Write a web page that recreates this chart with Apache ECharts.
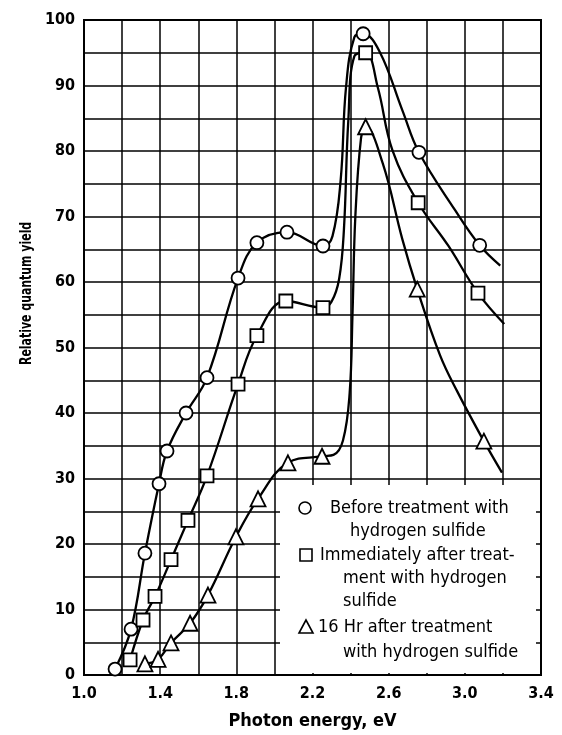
<!DOCTYPE html>
<html>
<head>
<meta charset="utf-8">
<script src="https://cdn.jsdelivr.net/npm/echarts@6/dist/echarts.min.js"></script>
<style>
  html, body { margin: 0; padding: 0; background: #fff; }
  #chart { width: 562px; height: 735px; }
</style>
</head>
<body>
<div id="chart"></div>
<script>
// markers (photon energy eV, relative quantum yield)
const beforeE = [1.163, 1.247, 1.32, 1.394, 1.436, 1.536, 1.646, 1.809, 1.908, 2.066, 2.255, 2.466, 2.759, 3.078];
const beforeY = [0.9, 7.0, 18.6, 29.2, 34.2, 40.0, 45.4, 60.6, 66.0, 67.6, 65.5, 97.9, 79.8, 65.6];
const afterE = [1.242, 1.31, 1.373, 1.457, 1.546, 1.646, 1.809, 1.908, 2.06, 2.255, 2.479, 2.755, 3.069];
const afterY = [2.3, 8.4, 12.0, 17.6, 23.6, 30.4, 44.4, 51.8, 57.1, 56.1, 95.0, 72.1, 58.3];
const laterE = [1.32, 1.389, 1.457, 1.557, 1.651, 1.798, 1.914, 2.071, 2.25, 2.479, 2.75, 3.1];
const laterY = [1.7, 2.4, 4.9, 7.9, 12.2, 21.1, 26.9, 32.4, 33.4, 83.7, 58.9, 35.7];

// points
const beforeLineE = [1.163, 1.247, 1.32, 1.394, 1.436, 1.536, 1.646, 1.809, 1.908, 2.066, 2.255, 2.305, 2.348, 2.376, 2.42, 2.466, 2.552, 2.672, 2.759, 2.948, 3.078, 3.186];
const beforeLineY = [0.9, 7.0, 18.6, 29.2, 34.2, 40.0, 45.4, 60.6, 66.0, 67.6, 65.5, 67.0, 75.6, 89.7, 97.4, 97.9, 95.2, 86.2, 79.8, 71.0, 65.6, 62.5];
const afterLineE = [1.242, 1.31, 1.373, 1.457, 1.546, 1.646, 1.809, 1.908, 2.06, 2.255, 2.30, 2.34, 2.365, 2.388, 2.42, 2.479, 2.543, 2.62, 2.755, 2.914, 3.069, 3.207];
const afterLineY = [2.3, 8.4, 12.0, 17.6, 23.6, 30.4, 44.4, 51.8, 57.1, 56.1, 57.0, 60.5, 68.0, 84.6, 94.5, 95.0, 89.7, 80.1, 72.1, 65.5, 58.3, 53.6];
const laterLineE = [1.32, 1.389, 1.457, 1.557, 1.651, 1.798, 1.914, 2.071, 2.25, 2.31, 2.36, 2.395, 2.41, 2.425, 2.455, 2.479, 2.569, 2.672, 2.75, 2.87, 2.96, 3.1, 3.195];
const laterLineY = [1.7, 2.4, 4.9, 7.9, 12.2, 21.1, 26.9, 32.4, 33.4, 33.6, 35.8, 43.0, 55.0, 70.0, 82.0, 83.7, 78.1, 66.5, 58.9, 48.8, 43.3, 35.7, 30.9];

const legendLines = [
  ['Before treatment with', 'hydrogen sulfide'],
  ['Immediately after treat-', 'ment with hydrogen', 'sulfide'],
  ['16 Hr after treatment', 'with hydrogen sulfide']
];

const FONT = '"DejaVu Sans Condensed", "Liberation Sans Narrow", sans-serif';
const zip = (a, b) => a.map((v, i) => [v, b[i]]);

const chart = echarts.init(document.getElementById('chart'));

const lineSeries = (xs, ys) => ({
  type: 'line',
  data: zip(xs, ys),
  smooth: 0.4,
  showSymbol: false,
  silent: true,
  lineStyle: { color: '#000', width: 2.3 },
  z: 3
});
const markSeries = (xs, ys, symbol, size) => ({
  type: 'scatter',
  data: zip(xs, ys),
  symbol: symbol,
  symbolSize: size,
  itemStyle: { color: '#fff', borderColor: '#000', borderWidth: 1.8, opacity: 1 },
  z: 5
});

const gridLine = { show: true, lineStyle: { color: '#000', width: 1.5 } };
const tickFont = { fontFamily: FONT, fontSize: 16, fontWeight: 'bold', color: '#000' };
const legendFont = '18px ' + FONT;

const legendText = (txt, x, y) => ({
  type: 'text', x: x, y: y, z: 101,
  style: { text: txt, font: legendFont, fill: '#000', verticalAlign: 'middle' }
});
const legendShape = { fill: '#fff', stroke: '#000', lineWidth: 1.6 };

const option = {
  backgroundColor: '#fff',
  animation: false,
  grid: {
    left: 84, top: 20, right: 21, bottom: 57,
    show: true, borderColor: '#000', borderWidth: 2
  },
  xAxis: {
    type: 'value',
    min: 1.0, max: 3.4, interval: 0.2,
    name: 'Photon energy, eV',
    nameLocation: 'middle',
    nameGap: 37,
    nameTextStyle: { fontFamily: FONT, fontSize: 18, fontWeight: 'bold', color: '#000' },
    axisLine: { show: false },
    axisTick: { show: false },
    splitLine: gridLine,
    axisLabel: Object.assign({
      margin: 11,
      formatter: v => {
        const k = Math.round(v * 10);
        return k % 4 === 2 ? (k / 10).toFixed(1) : '';
      }
    }, tickFont)
  },
  yAxis: {
    type: 'value',
    min: 0, max: 100, interval: 5,
    axisLine: { show: false },
    axisTick: { show: false },
    splitLine: gridLine,
    axisLabel: Object.assign({
      margin: 9,
      formatter: v => (v % 10 === 0 ? String(v) : '')
    }, tickFont)
  },
  series: [
    lineSeries(beforeLineE, beforeLineY),
    lineSeries(afterLineE, afterLineY),
    lineSeries(laterLineE, laterLineY),
    markSeries(beforeE, beforeY, 'circle', 13),
    markSeries(afterE, afterY, 'rect', 13),
    markSeries(laterE, laterY, 'triangle', 15)
  ],
  graphic: [
    {
      type: 'text', x: 19, y: 365, rotation: Math.PI / 2, scaleX: 0.76, z: 100,
      style: { text: 'Relative quantum yield', font: 'bold 16px ' + FONT, fill: '#000' }
    },
    {
      type: 'group', x: 280, y: 485,
      children: [
        { type: 'rect', z: 100, shape: { x: 0, y: 0, width: 256, height: 188 }, style: { fill: '#fff' } },
        { type: 'circle', z: 101, shape: { cx: 25, cy: 23, r: 6 }, style: legendShape },
        { type: 'rect', z: 101, shape: { x: 20, y: 64, width: 12, height: 12 }, style: legendShape },
        { type: 'polygon', z: 101, shape: { points: [[26, 135], [19, 148], [33, 148]] }, style: legendShape },
        legendText(legendLines[0][0], 50, 23),
        legendText(legendLines[0][1], 70, 46),
        legendText(legendLines[1][0], 40, 70),
        legendText(legendLines[1][1], 63, 93),
        legendText(legendLines[1][2], 63, 116),
        legendText(legendLines[2][0], 38, 142),
        legendText(legendLines[2][1], 63, 167)
      ]
    }
  ]
};

chart.setOption(option);
</script>
</body>
</html>
